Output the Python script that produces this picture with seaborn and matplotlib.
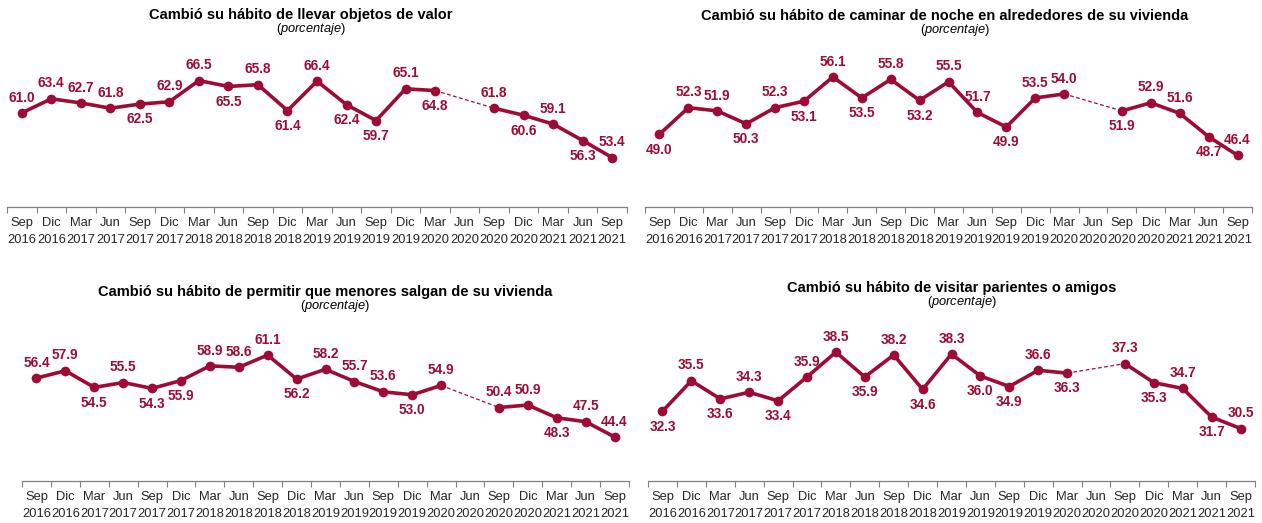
import matplotlib.pyplot as plt
import numpy as np
import pandas as pd
import seaborn as sns

# periods (quarterly), Jun 2020 has no survey
periods = ['Sep\n2016', 'Dic\n2016', 'Mar\n2017', 'Jun\n2017', 'Sep\n2017', 'Dic\n2017',
           'Mar\n2018', 'Jun\n2018', 'Sep\n2018', 'Dic\n2018', 'Mar\n2019', 'Jun\n2019',
           'Sep\n2019', 'Dic\n2019', 'Mar\n2020', 'Jun\n2020', 'Sep\n2020', 'Dic\n2020',
           'Mar\n2021', 'Jun\n2021', 'Sep\n2021']

objetos = [61.0, 63.4, 62.7, 61.8, 62.5, 62.9, 66.5, 65.5, 65.8, 61.4, 66.4, 62.4,
           59.7, 65.1, 64.8, None, 61.8, 60.6, 59.1, 56.3, 53.4]
caminar = [49.0, 52.3, 51.9, 50.3, 52.3, 53.1, 56.1, 53.5, 55.8, 53.2, 55.5, 51.7,
           49.9, 53.5, 54.0, None, 51.9, 52.9, 51.6, 48.7, 46.4]
menores = [56.4, 57.9, 54.5, 55.5, 54.3, 55.9, 58.9, 58.6, 61.1, 56.2, 58.2, 55.7,
           53.6, 53.0, 54.9, None, 50.4, 50.9, 48.3, 47.5, 44.4]
visitar = [32.3, 35.5, 33.6, 34.3, 33.4, 35.9, 38.5, 35.9, 38.2, 34.6, 38.3, 36.0,
           34.9, 36.6, 36.3, None, 37.3, 35.3, 34.7, 31.7, 30.5]

# label placement: 1 = above the point, -1 = below
pos_objetos = [1, 1, 1, 1, -1, 1, 1, -1, 1, -1, 1, -1, -1, 1, -1, 0, 1, -1, 1, -1, 1]
pos_caminar = [-1, 1, 1, -1, 1, -1, 1, -1, 1, -1, 1, 1, -1, 1, 1, 0, -1, 1, 1, -1, 1]
pos_menores = [1, 1, -1, 1, -1, -1, 1, 1, 1, -1, 1, 1, 1, -1, 1, 0, 1, 1, -1, 1, 1]
pos_visitar = [-1, 1, -1, 1, -1, 1, 1, -1, 1, -1, 1, -1, -1, 1, -1, 0, 1, -1, 1, -1, 1]

titles = ['Cambió su hábito de llevar objetos de valor',
          'Cambió su hábito de caminar de noche en alrededores de su vivienda',
          'Cambió su hábito de permitir que menores salgan de su vivienda',
          'Cambió su hábito de visitar parientes o amigos']

COLOR = '#9E0B34'

sns.set_style('white')
plt.rcParams['font.family'] = ['Liberation Sans', 'DejaVu Sans']
plt.rcParams['mathtext.fontset'] = 'custom'
plt.rcParams['mathtext.it'] = 'Liberation Sans:italic'
plt.rcParams['mathtext.rm'] = 'Liberation Sans'

W, H = 1262, 523
fig = plt.figure(figsize=(W / 100, H / 100), dpi=100)


def px_axes(x0, x1, ytop, ybot):
    return fig.add_axes([x0 / W, 1 - ybot / H, (x1 - x0) / W, (ybot - ytop) / H])


panels = [
    (objetos, pos_objetos, titles[0], (7, 627, 60, 207), (45, 70), (301, 15)),
    (caminar, pos_caminar, titles[1], (645, 1252, 60, 207), (40, 58.2), (945, 16)),
    (menores, pos_menores, titles[2], (22, 629, 334, 481), (35.4, 65.4), (325, 292)),
    (visitar, pos_visitar, titles[3], (648, 1255, 334, 481), (25, 40.4), (952, 288)),
]

for vals, pos, title, box, ylim, tpos in panels:
    ax = px_axes(*box)
    df = pd.DataFrame({'x': np.arange(len(periods)), 'y': vals, 'pos': pos})
    before = df.iloc[:15]
    after = df.iloc[16:]
    gap = df.iloc[[14, 16]]
    sns.lineplot(data=gap, x='x', y='y', ax=ax, color=COLOR, lw=0.9, linestyle=(0, (3, 2)))
    for seg in (before, after):
        sns.lineplot(data=seg, x='x', y='y', ax=ax, color=COLOR, lw=2.6,
                     marker='o', markersize=7, markeredgewidth=0, markeredgecolor=COLOR)
    for _, r in df.dropna().iterrows():
        off = 6 if r['pos'] > 0 else -6
        ax.annotate(f"{r['y']:.1f}", (r['x'], r['y']), xytext=(0, off),
                    textcoords='offset points', ha='center',
                    va='bottom' if off > 0 else 'top',
                    fontsize=9.8, fontweight='bold', color=COLOR)
    ax.set_xlim(-0.5, len(periods) - 0.5)
    ax.set_ylim(*ylim)
    ax.set_xlabel('')
    ax.set_ylabel('')
    ax.set_yticks([])
    ax.set_xticks(np.arange(len(periods)))
    ax.set_xticklabels(periods, fontsize=9.3, linespacing=1.6)
    ax.set_xticks(np.arange(len(periods) + 1) - 0.5, minor=True)
    ax.tick_params(axis='x', which='major', length=0, pad=7)
    ax.tick_params(axis='x', which='minor', length=4, width=0.8, color='#808080',
                   direction='out', bottom=True)
    for s in ('top', 'right', 'left'):
        ax.spines[s].set_visible(False)
    ax.spines['bottom'].set_color('#808080')
    ax.spines['bottom'].set_linewidth(0.9)
    ax.patch.set_alpha(0)

    fig.text(tpos[0] / W, 1 - tpos[1] / H, title, ha='center', va='center',
             fontsize=10.5, fontweight='bold', color='black')
    fig.text((tpos[0] + 10) / W, 1 - (tpos[1] + 14) / H, r'($\it{porcentaje}$)',
             ha='center', va='center', fontsize=9.3, color='black')

fig.savefig('out.png', dpi=100)
